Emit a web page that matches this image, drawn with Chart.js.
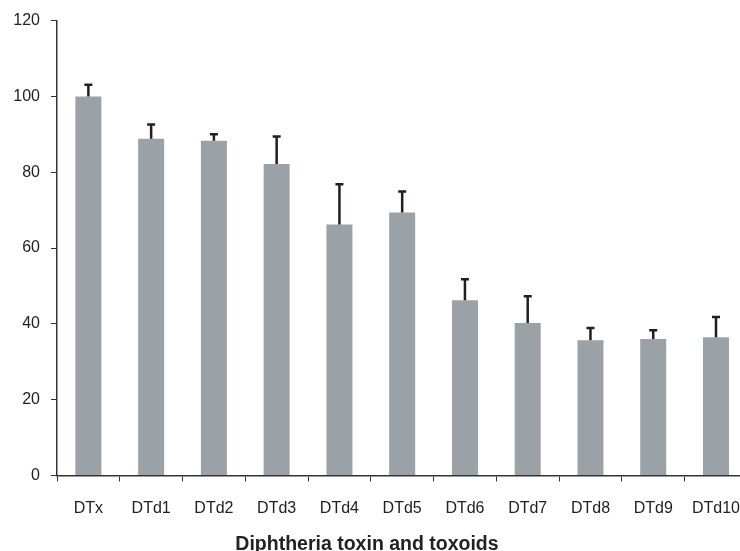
<!DOCTYPE html>
<html>
<head>
<meta charset="utf-8">
<script src="https://cdn.jsdelivr.net/npm/chart.js@4/dist/chart.umd.min.js"></script>
<style>
  html, body { margin: 0; padding: 0; overflow: hidden; background: #fff; }
  #wrap { position: absolute; left: 0; top: 0; width: 757px; height: 551px; }
</style>
</head>
<body>
<div id="wrap"><canvas id="chart" width="757" height="551"></canvas></div>
<script>
// Relative values per sample and their upper error (SD)
const categories = ['DTx', 'DTd1', 'DTd2', 'DTd3', 'DTd4', 'DTd5', 'DTd6', 'DTd7', 'DTd8', 'DTd9', 'DTd10'];
const means = [100, 88.8, 88.3, 82.2, 66.2, 69.4, 46.2, 40.2, 35.7, 36.0, 36.5];
const errors = [3.1, 3.8, 1.7, 7.2, 10.6, 5.5, 5.6, 7.1, 3.2, 2.3, 5.3];
const yTicks = [0, 20, 40, 60, 80, 100, 120];
const xTitle = 'Diphtheria toxin and toxoids';

const FONT = '"Liberation Sans", Arial, sans-serif';
const AXIS = '#333333';

// Upward error whiskers with a small cap
const errorBars = {
  id: 'errorBars',
  afterDatasetsDraw(chart) {
    const { ctx, scales: { y } } = chart;
    const meta = chart.getDatasetMeta(0);
    ctx.save();
    ctx.strokeStyle = '#231f20';
    ctx.lineWidth = 2.5;
    meta.data.forEach((bar, i) => {
      const x = bar.x;
      const yBase = y.getPixelForValue(means[i]);
      const yTop = y.getPixelForValue(means[i] + errors[i]);
      ctx.beginPath();
      ctx.moveTo(x, yBase);
      ctx.lineTo(x, yTop);
      ctx.moveTo(x - 4, yTop);
      ctx.lineTo(x + 4, yTop);
      ctx.stroke();
    });
    ctx.restore();
  }
};

// Axis caption centred under the page
const caption = {
  id: 'caption',
  afterDraw(chart) {
    const { ctx } = chart;
    ctx.save();
    ctx.font = 'bold 19.5px ' + FONT;
    ctx.fillStyle = '#222';
    ctx.textAlign = 'center';
    ctx.textBaseline = 'alphabetic';
    ctx.fillText(xTitle, 367, 550);
    ctx.restore();
  }
};

new Chart(document.getElementById('chart'), {
  type: 'bar',
  data: {
    labels: categories,
    datasets: [{
      data: means,
      backgroundColor: '#9aa1a7',
      borderWidth: 0,
      barPercentage: 0.414,
      categoryPercentage: 1.0
    }]
  },
  options: {
    responsive: false,
    animation: false,
    layout: { padding: { top: 20, right: 0, bottom: 0, left: 0 } },
    plugins: { legend: { display: false }, tooltip: { enabled: false } },
    scales: {
      x: {
        offset: true,
        grid: { offset: true, drawOnChartArea: false, drawTicks: true, tickLength: 6, color: AXIS, lineWidth: 1 },
        border: { color: AXIS, width: 1.5 },
        ticks: { color: '#222', font: { family: FONT, size: 16 }, padding: 17, maxRotation: 0, autoSkip: false },
        afterFit(scale) { scale.height = 75.5; }
      },
      y: {
        min: 0,
        max: 120,
        afterBuildTicks(scale) { scale.ticks = yTicks.map(v => ({ value: v })); },
        grid: { drawOnChartArea: false, drawTicks: true, tickLength: 6, color: AXIS, lineWidth: 1 },
        border: { color: AXIS, width: 1.5 },
        ticks: { color: '#222', font: { family: FONT, size: 16 }, padding: 11 },
        afterFit(scale) { scale.width = 57; }
      }
    }
  },
  plugins: [errorBars, caption]
});
</script>
</body>
</html>
